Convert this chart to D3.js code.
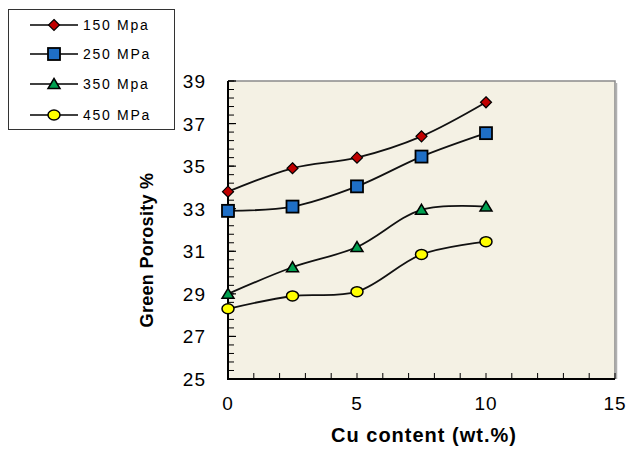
<!DOCTYPE html>
<html>
<head>
<meta charset="utf-8">
<script src="https://cdn.jsdelivr.net/npm/d3@7"></script>
<style>
  body { margin: 0; background: #fff; }
  svg text { font-family: "Liberation Sans", Arial, sans-serif; fill: #000; }
</style>
</head>
<body>
<div id="chart"></div>
<script>
// data
var cuContent = [0, 2.5, 5, 7.5, 10];
var seriesNames = ["150 Mpa", "250 MPa", "350 Mpa", "450 MPa"];
var p150 = [33.8, 34.9, 35.4, 36.4, 38.0];
var p250 = [32.9, 33.1, 34.05, 35.45, 36.55];
var p350 = [29.0, 30.25, 31.2, 32.95, 33.1];
var p450 = [28.3, 28.9, 29.1, 30.85, 31.45];
var xTicks = [0, 5, 10, 15];
var yTicks = [25, 27, 29, 31, 33, 35, 37, 39];

document.addEventListener("DOMContentLoaded", function() {

  const width = 627, height = 449;
  const left = 228, right = 615, top = 81, bottom = 379;

  var svg = d3.select("#chart").append("svg")
    .attr("width", width)
    .attr("height", height);

  var x = d3.scaleLinear().domain([0, 15]).range([left, right]);
  var y = d3.scaleLinear().domain([25, 39]).range([bottom, top]);

  //plot area with the grey frame on top and right
  svg.append("rect")
    .attr("x", left).attr("y", top)
    .attr("width", right - left).attr("height", bottom - top)
    .attr("fill", "#f4f1e4");
  svg.append("path")
    .attr("d", `M${left},${top}H${right}V${bottom}`)
    .attr("fill", "none").attr("stroke", "#8a8a8a").attr("stroke-width", 1.5);
  svg.append("line")
    .attr("x1", right + 1.5).attr("x2", right + 1.5)
    .attr("y1", top + 2).attr("y2", bottom)
    .attr("stroke", "#b0b0b0").attr("stroke-width", 1.5);

  //axes, ticks inside
  var yMinor = d3.range(25, 39.01, 0.4);
  svg.append("g").selectAll("line").data(yMinor).enter().append("line")
    .attr("x1", left).attr("x2", (d) => left + 6)
    .attr("y1", (d) => y(d)).attr("y2", (d) => y(d))
    .attr("stroke", "#000").attr("stroke-width", 1);
  svg.append("g").selectAll("line").data(yTicks).enter().append("line")
    .attr("x1", left).attr("x2", left + 8)
    .attr("y1", (d) => y(d)).attr("y2", (d) => y(d))
    .attr("stroke", "#000").attr("stroke-width", 1.2);
  var xMinor = d3.range(0, 15.01, 1);
  svg.append("g").selectAll("line").data(xMinor).enter().append("line")
    .attr("x1", (d) => x(d)).attr("x2", (d) => x(d))
    .attr("y1", bottom).attr("y2", bottom - 6)
    .attr("stroke", "#000").attr("stroke-width", 1);

  svg.append("line")
    .attr("x1", left).attr("x2", left).attr("y1", top).attr("y2", bottom + 1)
    .attr("stroke", "#000").attr("stroke-width", 2);
  svg.append("line")
    .attr("x1", left - 1).attr("x2", right).attr("y1", bottom).attr("y2", bottom)
    .attr("stroke", "#000").attr("stroke-width", 2);

  svg.append("g").selectAll("text").data(yTicks).enter().append("text")
    .attr("x", 206).attr("y", (d) => y(d) + 7)
    .attr("text-anchor", "end")
    .style("font-size", "19px").style("letter-spacing", "1px")
    .text((d) => d);
  svg.append("g").selectAll("text").data(xTicks).enter().append("text")
    .attr("x", (d) => x(d)).attr("y", 410)
    .attr("text-anchor", "middle")
    .style("font-size", "19px").style("letter-spacing", "1px")
    .text((d) => d);

  svg.append("text")
    .attr("x", 424).attr("y", 442)
    .attr("text-anchor", "middle")
    .style("font-size", "20px").style("font-weight", "bold")
    .style("letter-spacing", "1px")
    .text("Cu content (wt.%)");
  svg.append("text")
    .attr("transform", "translate(153,250) rotate(-90)")
    .attr("text-anchor", "middle")
    .style("font-size", "18px").style("font-weight", "bold")
    .style("letter-spacing", "0.3px")
    .text("Green Porosity %");

  //series
  var series = [
    { name: seriesNames[0], values: p150, shape: "diamond", color: "#c00000" },
    { name: seriesNames[1], values: p250, shape: "square", color: "#1f6fc6" },
    { name: seriesNames[2], values: p350, shape: "triangle", color: "#00a050" },
    { name: seriesNames[3], values: p450, shape: "circle", color: "#ffff00" }
  ];

  var line = d3.line()
    .x((d, i) => x(cuContent[i]))
    .y((d) => y(d))
    .curve(d3.curveCatmullRom.alpha(0.5));

  function marker(g, shape, color, cx, cy) {
    if (shape == "diamond") {
      g.append("path").attr("d", `M${cx},${cy-5.5}L${cx+5.5},${cy}L${cx},${cy+5.5}L${cx-5.5},${cy}Z`)
        .attr("fill", color).attr("stroke", "#000").attr("stroke-width", 1.2);
    } else if (shape == "square") {
      g.append("rect").attr("x", cx - 6).attr("y", cy - 6).attr("width", 12).attr("height", 12)
        .attr("fill", color).attr("stroke", "#000").attr("stroke-width", 1.8);
    } else if (shape == "triangle") {
      g.append("path").attr("d", `M${cx},${cy-5.5}L${cx+6},${cy+4.5}L${cx-6},${cy+4.5}Z`)
        .attr("fill", color).attr("stroke", "#000").attr("stroke-width", 1.5);
    } else {
      g.append("ellipse").attr("cx", cx).attr("cy", cy).attr("rx", 6).attr("ry", 5)
        .attr("fill", color).attr("stroke", "#000").attr("stroke-width", 1.5);
    }
  }

  series.forEach(function(s) {
    svg.append("path")
      .attr("d", line(s.values))
      .attr("fill", "none").attr("stroke", "#111").attr("stroke-width", 1.8);
    var g = svg.append("g");
    s.values.forEach(function(v, i) {
      marker(g, s.shape, s.color, x(cuContent[i]), y(v));
    });
  });

  //legend
  svg.append("rect")
    .attr("x", 8.5).attr("y", 9.5).attr("width", 166).attr("height", 120)
    .attr("fill", "#fff").attr("stroke", "#333").attr("stroke-width", 1);
  var legendY = [25, 54, 84, 115];
  series.forEach(function(s, i) {
    var g = svg.append("g");
    g.append("line")
      .attr("x1", 30).attr("x2", 78).attr("y1", legendY[i]).attr("y2", legendY[i])
      .attr("stroke", "#000").attr("stroke-width", 1.5);
    marker(g, s.shape, s.color, 54, legendY[i]);
    g.append("text")
      .attr("x", 83).attr("y", legendY[i] + 5)
      .style("font-size", "14px")
      .style("letter-spacing", "1.7px")
      .text(s.name);
  });

});
</script>
</body>
</html>
